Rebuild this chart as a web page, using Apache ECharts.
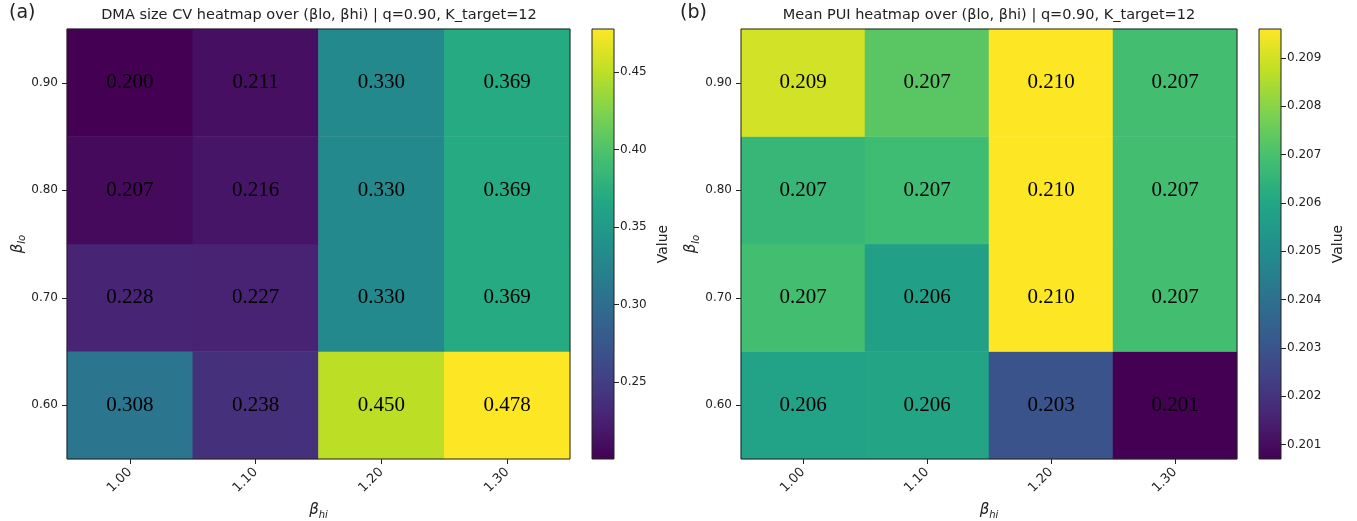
<!DOCTYPE html>
<html>
<head>
<meta charset="utf-8">
<script src="https://cdn.jsdelivr.net/npm/echarts@6/dist/echarts.min.js"></script>
<style>
html,body{margin:0;padding:0;background:#fff;}
#c{width:1357px;height:521px;}
</style>
</head>
<body>
<div id="c"></div>
<script>
// ---- data ----
const betaHi = ['1.00', '1.10', '1.20', '1.30'];
const betaLo = ['0.60', '0.70', '0.80', '0.90'];
// rows follow betaLo order (0.60 ... 0.90), columns follow betaHi
const cvRow060 = [0.308, 0.238, 0.450, 0.478];
const cvRow070 = [0.228, 0.227, 0.330, 0.369];
const cvRow080 = [0.207, 0.216, 0.330, 0.369];
const cvRow090 = [0.2002, 0.211, 0.330, 0.369];
const puiRow060 = [0.2058, 0.2059, 0.2030, 0.2007];
const puiRow070 = [0.2069, 0.2057, 0.2096, 0.2069];
const puiRow080 = [0.2066, 0.2068, 0.2096, 0.2069];
const puiRow090 = [0.2090, 0.2073, 0.2096, 0.2069];
const cvTicks = [0.25, 0.30, 0.35, 0.40, 0.45];
const puiTicks = [0.201, 0.202, 0.203, 0.204, 0.205, 0.206, 0.207, 0.208, 0.209];
const titleA = 'DMA size CV heatmap over (\u03b2lo, \u03b2hi) | q=0.90, K_target=12';
const titleB = 'Mean PUI heatmap over (\u03b2lo, \u03b2hi) | q=0.90, K_target=12';

const viridis = ['#440154','#482475','#414487','#355f8d','#2a788e','#21918c','#22a884','#44bf70','#7ad151','#bddf26','#fde725'];

function toCells(rows) {
  const out = [];
  rows.forEach((r, yi) => r.forEach((v, xi) => out.push([xi, yi, v])));
  return out;
}
const cvCells = toCells([cvRow060, cvRow070, cvRow080, cvRow090]);
const puiCells = toCells([puiRow060, puiRow070, puiRow080, puiRow090]);
const cvAll = [].concat(cvRow060, cvRow070, cvRow080, cvRow090);
const puiAll = [].concat(puiRow060, puiRow070, puiRow080, puiRow090);
const cvMin = Math.min(...cvAll), cvMax = Math.max(...cvAll);
const puiMin = Math.min(...puiAll), puiMax = Math.max(...puiAll);

const FONT = 'DejaVu Sans';
const TXT = '#222';

function gradient() {
  return new echarts.graphic.LinearGradient(0, 1, 0, 0,
    viridis.map((c, i) => ({offset: i / (viridis.length - 1), color: c})));
}

function mkGrid(left, width) {
  return {left: left, top: 29, width: width, height: 430, show: true, borderColor: '#222', borderWidth: 1,
    backgroundColor: 'transparent', z: 5, containLabel: false, outerBoundsMode: 'none'};
}
const grids = [mkGrid(67, 503), mkGrid(592, 22), mkGrid(741, 496), mkGrid(1259, 22)];

const nameRich = {
  b: {fontFamily: FONT, fontStyle: 'italic', fontSize: 15, color: TXT},
  s: {fontFamily: FONT, fontStyle: 'italic', fontSize: 10, color: TXT, padding: [9, 0, 0, 0]}
};

function heatX(gi) {
  return {
    type: 'category', gridIndex: gi, data: betaHi,
    name: '{b|\u03b2}{s|hi}', nameLocation: 'middle', nameGap: 42,
    nameTextStyle: {rich: nameRich},
    axisLine: {show: false},
    axisTick: {show: true, alignWithLabel: true, length: 5, lineStyle: {color: '#222'}},
    axisLabel: {rotate: 45, margin: 11, fontFamily: FONT, fontSize: 13, color: TXT},
    splitLine: {show: false}
  };
}
function heatY(gi, gap) {
  return {
    type: 'category', gridIndex: gi, data: betaLo,
    name: '{b|\u03b2}{s|lo}', nameLocation: 'middle', nameGap: gap, nameRotate: 90,
    nameTextStyle: {rich: nameRich},
    axisLine: {show: false},
    axisTick: {show: true, alignWithLabel: true, length: 5, lineStyle: {color: '#222'}},
    axisLabel: {margin: 9, fontFamily: FONT, fontSize: 12, color: TXT},
    splitLine: {show: false}
  };
}
function barX(gi) {
  return {type: 'category', gridIndex: gi, data: [''], show: false};
}
function barY(gi, mn, mx, ticks, digits, gap) {
  return {
    type: 'value', gridIndex: gi, position: 'right', min: mn, max: mx,
    name: 'Value', nameLocation: 'middle', nameGap: gap, nameRotate: 90,
    nameTextStyle: {fontFamily: FONT, fontSize: 14, color: TXT},
    axisLine: {show: false},
    axisTick: {show: true, length: 5, customValues: ticks, lineStyle: {color: '#222'}},
    axisLabel: {show: true, margin: 6, customValues: ticks, fontFamily: FONT, fontSize: 12, color: TXT,
      formatter: v => Number(v).toFixed(digits)},
    splitLine: {show: false}
  };
}

function cellLabel() {
  return {show: true, color: '#000', fontFamily: 'Liberation Serif', fontSize: 21,
    formatter: p => p.value[2].toFixed(3)};
}

const option = {
  backgroundColor: '#fff',
  animation: false,
  grid: grids,
  xAxis: [heatX(0), barX(1), heatX(2), barX(3)],
  yAxis: [heatY(0, 38), barY(1, cvMin, cvMax, cvTicks, 2, 42), heatY(2, 40), barY(3, puiMin, puiMax, puiTicks, 3, 50)],
  visualMap: [
    {type: 'continuous', show: false, seriesIndex: 0, min: cvMin, max: cvMax, inRange: {color: viridis}},
    {type: 'continuous', show: false, seriesIndex: 3, min: puiMin, max: puiMax, inRange: {color: viridis}}
  ],
  series: [
    {type: 'heatmap', xAxisIndex: 0, yAxisIndex: 0, data: cvCells, label: cellLabel(), itemStyle: {borderWidth: 0}},
    {type: 'bar', xAxisIndex: 1, yAxisIndex: 1, stack: 'a', data: [cvMin], itemStyle: {color: 'transparent'}, barWidth: '100%', silent: true},
    {type: 'bar', xAxisIndex: 1, yAxisIndex: 1, stack: 'a', data: [cvMax - cvMin], itemStyle: {color: gradient()}, barWidth: '100%', silent: true},
    {type: 'heatmap', xAxisIndex: 2, yAxisIndex: 2, data: puiCells, label: cellLabel(), itemStyle: {borderWidth: 0}},
    {type: 'bar', xAxisIndex: 3, yAxisIndex: 3, stack: 'b', data: [puiMin], itemStyle: {color: 'transparent'}, barWidth: '100%', silent: true},
    {type: 'bar', xAxisIndex: 3, yAxisIndex: 3, stack: 'b', data: [puiMax - puiMin], itemStyle: {color: gradient()}, barWidth: '100%', silent: true}
  ],
  graphic: [
    {type: 'text', left: 9, top: 4, style: {text: '(a)', fontFamily: FONT, fontSize: 19, fill: TXT}},
    {type: 'text', left: 680, top: 4, style: {text: '(b)', fontFamily: FONT, fontSize: 19, fill: TXT}},
    {type: 'text', x: 319, y: 15, style: {text: titleA, fontFamily: FONT, fontSize: 14.5, fill: TXT, align: 'center', verticalAlign: 'middle'}},
    {type: 'text', x: 989, y: 15, style: {text: titleB, fontFamily: FONT, fontSize: 14.5, fill: TXT, align: 'center', verticalAlign: 'middle'}}
  ]
};

const chart = echarts.init(document.getElementById('c'), null, {renderer: 'canvas'});
chart.setOption(option);
</script>
</body>
</html>
